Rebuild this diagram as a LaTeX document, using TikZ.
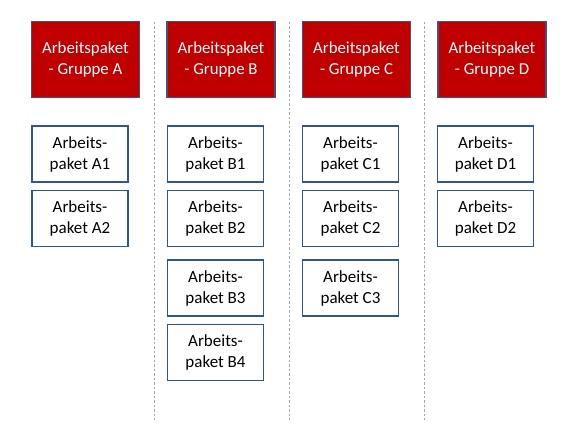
\documentclass[tikz,border=0pt]{standalone}
\usepackage{fontspec}
\setmainfont{Carlito}
\begin{document}
\begin{tikzpicture}[x=1pt,y=-1pt,
  grp/.style={draw=grpborder,line width=1.5pt,fill=grpred,text=white,
    minimum width=108pt,minimum height=76pt,align=center,inner sep=0pt,
    font=\fontsize{16.8}{21}\selectfont},
  pkt/.style={draw=pktborder,line width=1.5pt,fill=white,text=black,
    minimum width=96pt,minimum height=56pt,align=center,inner sep=0pt,
    font=\fontsize{17}{21}\selectfont},
  sep/.style={draw=sepgray,line width=0.9pt,dash pattern=on 2.5pt off 2pt}]
\definecolor{grpred}{HTML}{C00000}
\definecolor{grpborder}{HTML}{42527A}
\definecolor{pktborder}{HTML}{2F5597}
\definecolor{sepgray}{HTML}{A6A6A6}
\useasboundingbox (0,0) rectangle (570,444);
% separators
\foreach \n/\x in {1/154.5,2/289.5,3/424}{
  \coordinate (s\n t) at (\x,22);
  \coordinate (s\n b) at (\x,420);
  \draw[sep] (s\n t) -- (s\n b);
}
% group headers
\node[grp] (gA) at (85.5,59.5) {Arbeitspaket\\- Gruppe A};
\node[grp] (gB) at (221,59.5) {Arbeitspaket\\- Gruppe B};
\node[grp] (gC) at (356.5,59.5) {Arbeitspaket\\- Gruppe C};
\node[grp] (gD) at (492,59.5) {Arbeitspaket\\- Gruppe D};
% packages
\node[pkt] (A1) at (80,154) {Arbeits-\\paket A1};
\node[pkt] (A2) at (80,218.5) {Arbeits-\\paket A2};
\node[pkt] (B1) at (215.5,154) {Arbeits-\\paket B1};
\node[pkt] (B2) at (215.5,218.5) {Arbeits-\\paket B2};
\node[pkt] (B3) at (215.5,288) {Arbeits-\\paket B3};
\node[pkt] (B4) at (215.5,352.5) {Arbeits-\\paket B4};
\node[pkt] (C1) at (350.5,154) {Arbeits-\\paket C1};
\node[pkt] (C2) at (350.5,218.5) {Arbeits-\\paket C2};
\node[pkt] (C3) at (350.5,288) {Arbeits-\\paket C3};
\node[pkt] (D1) at (485.5,154) {Arbeits-\\paket D1};
\node[pkt] (D2) at (485.5,218.5) {Arbeits-\\paket D2};
\end{tikzpicture}
\end{document}
